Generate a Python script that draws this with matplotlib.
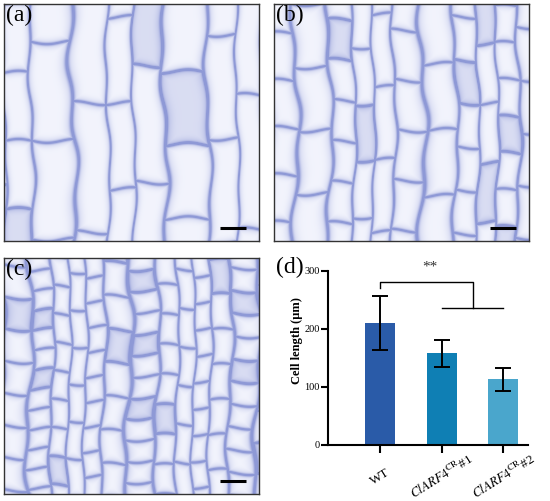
import numpy as np
import matplotlib
matplotlib.use("Agg")
from matplotlib import pyplot as plt

plt.rcParams['font.family'] = ['Liberation Serif', 'DejaVu Serif']
plt.rcParams['mathtext.fontset'] = 'stix'

# bar chart data (d)
groups = ["WT", r"$\it{ClARF4}^{\rm CR}$#1", r"$\it{ClARF4}^{\rm CR}$#2"]
cell_len = [210, 158, 113]
cell_err = [47, 23, 20]
bar_colors = ["#2a5ba8", "#0f7fb4", "#4aa6cc"]

# micrograph panels: label, approx cell width / height in px
panel_labels = ["(a)", "(b)", "(c)"]
cell_w = [33, 25, 21]
cell_h = [105, 55, 30]


def tissue(ny, nx, cw, ch, k):
    # soft procedural stand-in for the stained sections
    yy, xx = np.mgrid[0:ny, 0:nx].astype(float)
    xw = (xx + 6 * np.sin(xx / 19.0 + k) + 3 * np.sin(yy / 37.0 + k)
          + 1.5 * np.sin(yy / 11.0 + xx / 23.0))
    col = np.floor(xw / cw)
    fx = xw / cw - col
    dx = np.minimum(fx, 1 - fx) * cw
    hl = ch * (0.65 + 0.7 * ((col * 0.4142 + k) % 1))
    off = ((col * 0.618 + k * 0.3) % 1.0) * hl
    yw = yy + off + 2 * np.sin(xx / 9.0 + k)
    row = np.floor(yw / hl)
    fy = yw / hl - row
    dy = np.minimum(fy, 1 - fy) * hl
    d = np.minimum(dx, dy)
    wall = 0.8 * np.exp(-(d / 1.7) ** 2) + 0.3 * np.exp(-(d / 5.0) ** 2)
    fill = (((col * 0.731 + row * 0.317 + k * 0.11) % 1) > 0.88) * 0.25
    a = np.clip(wall + fill, 0, 1)[..., None]
    bg = np.array([0.95, 0.956, 0.99])
    wc = np.array([0.56, 0.6, 0.84])
    return bg * (1 - a) + wc * a


fig = plt.figure(figsize=(5.5, 5.01), dpi=100)

W, H = 550, 501
boxes = [(4, 4, 255, 237), (274, 4, 255, 237), (4, 258, 255, 236)]
for i, (x0, y0, w, h) in enumerate(boxes):
    ax = fig.add_axes([x0 / W, 1 - (y0 + h) / H, w / W, h / H])
    ax.imshow(tissue(h, w, cell_w[i], cell_h[i], i * 1.3), extent=[0, w, h, 0],
              interpolation="bilinear", aspect="auto")
    ax.set_xlim(0, w)
    ax.set_ylim(h, 0)
    ax.set_xticks([])
    ax.set_yticks([])
    for s in ax.spines.values():
        s.set_color("#333333")
        s.set_linewidth(1.0)
    ax.text(2, 1, panel_labels[i], fontsize=17, va="top", ha="left")
    ax.plot([w - 39, w - 13], [h - 13, h - 13], color="black", lw=2.2,
            solid_capstyle="butt")

# (d) bar chart
ax = fig.add_axes([328 / W, 1 - 445 / H, 200 / W, 174 / H])
x = np.arange(len(groups))
ax.bar(x, cell_len, width=0.49, color=bar_colors, zorder=2)
ax.errorbar(x, cell_len, yerr=cell_err, fmt="none", ecolor="black",
            elinewidth=1.4, capsize=6, capthick=1.4, zorder=3)
ax.set_xlim(-0.85, 2.4)
ax.set_ylim(0, 300)
ax.set_yticks([0, 100, 200, 300])
ax.set_xticks(x)
ax.set_xticklabels(groups, rotation=32, ha="center", va="center", fontsize=9.5,
                   rotation_mode="anchor")
ax.tick_params(axis="y", labelsize=7.5, width=1.5, length=5, pad=1)
ax.tick_params(axis="x", width=1.5, length=6, pad=17)
for s in ["top", "right"]:
    ax.spines[s].set_visible(False)
for s in ["left", "bottom"]:
    ax.spines[s].set_linewidth(1.5)
ax.set_ylabel("Cell length (μm)", fontsize=9, fontweight="bold")
ax.yaxis.set_label_coords(-0.125, 0.598)

# significance bracket
ax.plot([0, 0, 1.5, 1.5], [270, 281, 281, 236], color="black", lw=1.0,
        clip_on=False)
ax.plot([1, 2], [236, 236], color="black", lw=1.0, clip_on=False)
ax.text(0.8, 296, "**", ha="center", va="bottom", fontsize=11, color="#333333")

fig.text(276 / W, 1 - 257 / H, "(d)", fontsize=17, va="top", ha="left")

fig.savefig("out.png", dpi=100)
